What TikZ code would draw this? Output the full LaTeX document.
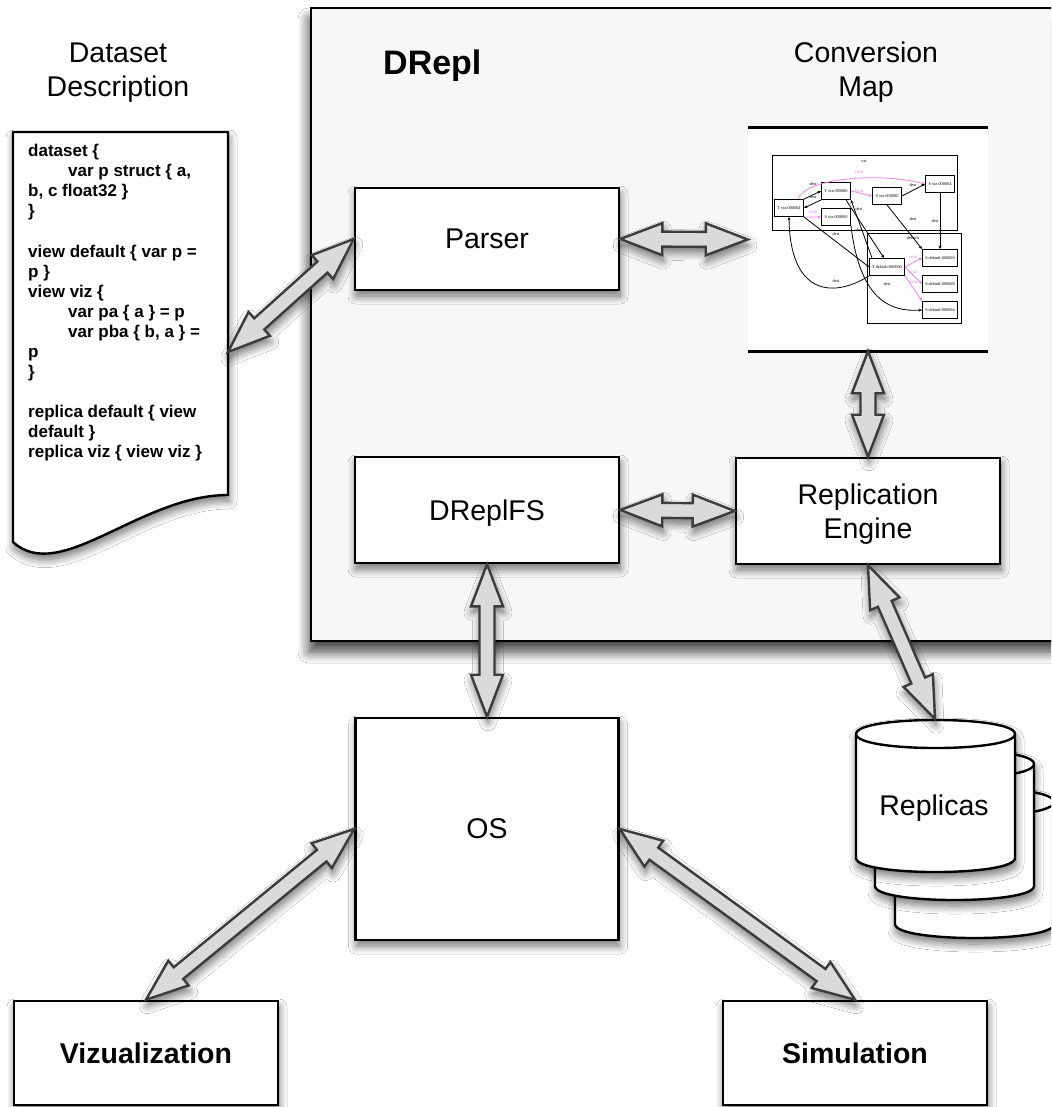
\documentclass[tikz,border=0pt]{standalone}
\usepackage{fontspec}
\setmainfont{Liberation Sans}
\newfontfamily\gfont{Liberation Serif}
\usetikzlibrary{calc,shadows.blur,arrows.meta}
\definecolor{panel}{HTML}{F7F7F7}
\definecolor{arrfill}{HTML}{DADADA}
\definecolor{arrline}{HTML}{3C3C3C}
\definecolor{gpink}{HTML}{EE82EE}
\newcommand\dblarrow[2]{%
  \filldraw[dbl] (#1)
  -- ($(#1)!42pt!(#2)!16pt!90:(#2)$) -- ($(#1)!42pt!(#2)!7.5pt!90:(#2)$)
  -- ($(#2)!42pt!(#1)!7.5pt!-90:(#1)$) -- ($(#2)!42pt!(#1)!16pt!-90:(#1)$)
  -- (#2)
  -- ($(#2)!42pt!(#1)!16pt!90:(#1)$) -- ($(#2)!42pt!(#1)!7.5pt!90:(#1)$)
  -- ($(#1)!42pt!(#2)!7.5pt!-90:(#2)$) -- ($(#1)!42pt!(#2)!16pt!-90:(#2)$)
  -- cycle;}
\newcommand\cylinder[4]{% cx, rx, yt, yb ; ry=14
  \path[cyl] (#1-#2,#3) -- (#1-#2,#4)
    .. controls (#1-#2,#4+18.7) and (#1+#2,#4+18.7) .. (#1+#2,#4)
    -- (#1+#2,#3)
    .. controls (#1+#2,#3-18.7) and (#1-#2,#3-18.7) .. (#1-#2,#3) -- cycle;
  \draw[line width=2.4pt] (#1-#2,#3) .. controls (#1-#2,#3+18.7) and (#1+#2,#3+18.7) .. (#1+#2,#3);}
\tikzset{
  shad/.style={blur shadow={shadow xshift=1pt, shadow yshift=-6pt, shadow blur radius=8pt, shadow blur steps=10, shadow opacity=55}},
  box/.style={draw=black, line width=2.6pt, fill=white, minimum width=264, minimum height=104,
    inner sep=0pt, text depth=0pt, font=\fontsize{28.5}{34.5}\selectfont, align=center, shad},
  title/.style={anchor=base, inner sep=0pt, font=\fontsize{28.5}{34.5}\selectfont},
  code/.style={anchor=base west, inner sep=0pt, font=\fontsize{17}{20}\selectfont\bfseries},
  dbl/.style={fill=arrfill, draw=arrline, line width=2.4pt, line join=miter, shad},
  cyl/.style={fill=white, draw=black, line width=2.4pt, shad},
  gnode/.style={draw=black, line width=0.9pt, fill=white, inner sep=0pt, minimum width=29, minimum height=17,
    font=\gfont\fontsize{4.3}{5}\selectfont},
  gedge/.style={-{Stealth[length=3.5pt,width=3pt]}, line width=0.8pt, black},
  gfield/.style={gedge, gpink},
  glab/.style={font=\gfont\fontsize{4.3}{5}\selectfont, inner sep=0pt},
}
\begin{document}
\begin{tikzpicture}[x=1pt,y=-1pt]
\useasboundingbox (0,0) rectangle (1051,1107);
\clip (0,0) rectangle (1051,1107);
\fill[white] (0,0) rectangle (1051,1107);

% DRepl panel
\path[fill=panel, draw=black, line width=2.6pt, blur shadow={shadow xshift=-2pt, shadow yshift=-11pt, shadow blur radius=11pt, shadow blur steps=12, shadow opacity=75}] (311,8) rectangle (1075,641);
\node[anchor=base west, inner sep=0pt, font=\fontsize{34}{40}\selectfont\bfseries] (dreplt) at (383,75) {DRepl};

% dataset description document
\path[fill=white, draw=black, line width=2.4pt, shad] (13,132) -- (228,132) -- (228,495)
  .. controls (140,495) and (60,585) .. (13,542) -- cycle;
\coordinate (docpt) at (228,352);
\node[title] (dd1) at (118,63) {Dataset};
\node[title] (dd2) at (118,97) {Description};
\node[code] (c1) at (28,157) {dataset \{};
\node[code] (c2) at (68,177) {var p struct \{ a,};
\node[code] (c3) at (28,197) {b, c float32 \}};
\node[code] (c4) at (28,217) {\}};
\node[code] (c6) at (28,257) {view default \{ var p =};
\node[code] (c7) at (28,277) {p \}};
\node[code] (c8) at (28,297) {view viz \{};
\node[code] (c9) at (68,317) {var pa \{ a \} = p};
\node[code] (c10) at (68,337) {var pba \{ b, a \} =};
\node[code] (c11) at (28,357) {p};
\node[code] (c12) at (28,377) {\}};
\node[code] (c14) at (28,417) {replica default \{ view};
\node[code] (c15) at (28,437) {default \}};
\node[code] (c16) at (28,457) {replica viz \{ view viz \}};

% conversion map
\node[title] (cm1) at (866,63) {Conversion};
\node[title] (cm2) at (866,97) {Map};
\node[fill=white, inner sep=0pt, minimum width=240, minimum height=223] (convmap) at (868,239.5) {};
\draw[line width=2.6pt] (convmap.north west) -- (convmap.north east);
\draw[line width=2.6pt] (convmap.south west) -- (convmap.south east);
\draw[line width=0.9pt] (772,155) rectangle (957,230);
\draw[line width=0.9pt] (867,233) rectangle (961,323);
\node[glab] (lviz) at (864,161) {viz};
\node[glab] (ldef) at (913,238) {default};
\node[gnode] (tv4) at (789,208) {T viz:000004};
\node[gnode] (tv0) at (836,191) {T viz:000000};
\node[gnode] (sv0b) at (836,217) {S viz:000000};
\node[gnode] (sv0) at (887,196) {S viz:000000};
\node[gnode] (sv4) at (940,184) {S viz:000004};
\node[gnode, minimum width=35] (td0) at (887,267) {T default:000000};
\node[gnode, minimum width=35] (sd0) at (940,258) {S default:000000};
\node[gnode, minimum width=35] (sd8) at (940,284) {S default:000008};
\node[gnode, minimum width=35] (sd4) at (940,310) {S default:000004};
\draw[gedge] (tv4.north east) -- (tv0.west);
\draw[gedge] (tv0.south west) -- (tv4.east);
\draw[gfield] (tv4.south east) -- (sv0b.west);
\draw[gfield] ($(tv4.north east)+(-6,0)$) .. controls (805,178) and (880,172) .. (sv4.west);
\draw[gfield] (tv0.east) -- (sv0.west);
\draw[gedge] (sv0.east) -- (sv4.west);
\draw[gedge] (sv0.south) -- (sd0.north west);
\draw[gedge] (sv4.south) -- (sv4.south |- sd0.north);
\draw[gedge] (tv4.south east) -- (td0.west);
\draw[gedge] ($(tv0.south east)+(-5,0)$) -- ($(td0.north)+(-3,0)$);
\draw[gedge] ($(td0.north west)+(3,0)$) -- (tv0.south east);
\draw[gedge] (td0.south west) .. controls (830,300) and (790,292) .. (tv4.south);
\draw[gedge] (sv0b.south east) .. controls (860,300) and (890,312) .. (sd4.west);
\draw[gfield] (td0.east) -- (sd0.west);
\draw[gfield] (td0.east) -- (sd8.west);
\draw[gfield] (td0.south east) -- (sd4.north west);
\node[glab] (e1) at (813,184) {dest};
\node[glab] (e2) at (813,197) {dest};
\node[glab, text=gpink] (e3) at (813,212) {field};
\node[glab, text=gpink] (e4) at (859,172) {field};
\node[glab, text=gpink] (e5) at (859,191) {field};
\node[glab] (e6) at (913,185) {dest};
\node[glab] (e7) at (913,219) {dest};
\node[glab] (e8) at (935,221) {dest};
\node[glab] (e9) at (836,234) {dest};
\node[glab] (e10) at (859,209) {dest};
\node[glab] (e11) at (859,230) {dest};
\node[glab] (e12) at (836,281) {dest};
\node[glab] (e13) at (887,284) {dest};
\node[glab, text=gpink] (e14) at (913,257) {field};
\node[glab, text=gpink] (e15) at (913,272) {field};
\node[glab, text=gpink] (e16) at (913,282) {field};

% boxes
\node[box, minimum height=102] (parser) at (487,239) {Parser};
\node[box, minimum height=106] (fs) at (487,510) {DReplFS};
\node[box, minimum height=106] (repl) at (868,511) {Replication\\Engine};
\node[box, minimum width=263, minimum height=222] (os) at (487,829) {OS};
\node[box, font=\fontsize{28.5}{34.5}\selectfont\bfseries] (viz) at (146,1053) {Vizualization};
\node[box, font=\fontsize{28.5}{34.5}\selectfont\bfseries] (sim) at (855,1053) {Simulation};

% replicas
\cylinder{974.5}{79.5}{802}{924}
\cylinder{954.5}{79.5}{764}{886}
\cylinder{935.5}{79.5}{734}{858}
\node[anchor=base, inner sep=0pt, font=\fontsize{28.5}{34.5}\selectfont] (replicas) at (934,815) {Replicas};
\coordinate (cyltop) at (935,719);

% connectors
\dblarrow{parser.west}{docpt}
\dblarrow{parser.east}{convmap.west}
\dblarrow{convmap.south}{repl.north}
\dblarrow{fs.east}{repl.west}
\dblarrow{fs.south}{os.north}
\dblarrow{repl.south}{cyltop}
\dblarrow{os.west}{viz.north}
\dblarrow{os.east}{sim.north}
\end{tikzpicture}
\end{document}
